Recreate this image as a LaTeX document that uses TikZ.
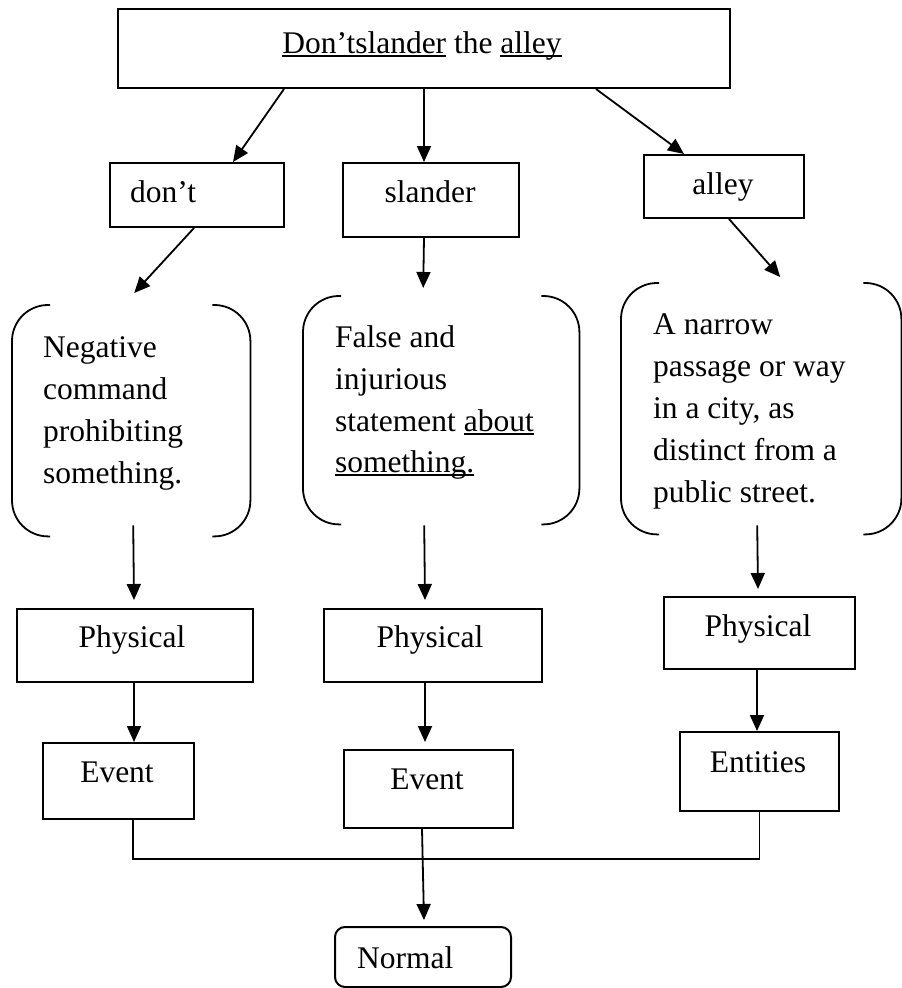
\documentclass[tikz,border=0pt]{standalone}
\usepackage{fontspec}
\setmainfont{Liberation Serif}
\usetikzlibrary{arrows.meta,calc}

% underline with a thin rule just below the baseline
\newsavebox{\undlbox}
\newcommand{\undl}[1]{\sbox{\undlbox}{#1}\rlap{\rule[-3.5pt]{\wd\undlbox}{1.5pt}}\usebox{\undlbox}}

\tikzset{
  box/.style={draw, line width=2pt, inner sep=0pt, anchor=north west},
  rbox/.style={box, rounded corners=10pt},
  brk/.style={draw=none, inner sep=0pt, anchor=north west},
  corner/.style={line width=1.8pt, rounded corners=36pt},
  txt/.style={inner sep=0pt, anchor=base},
  ltxt/.style={inner sep=0pt, anchor=base west},
  arr/.style={line width=1.8pt, -{Triangle[length=16pt,width=14pt]}},
  link/.style={line width=1.8pt}
}

% open bracket frame: four rounded corners, gaps at top and bottom
\newcommand{\bracketframe}[1]{%
  \draw[corner] ($(#1.north west)+(38,0)$) -- (#1.north west) -- (#1.south west) -- ($(#1.south west)+(38,0)$);
  \draw[corner] ($(#1.north east)+(-38,0)$) -- (#1.north east) -- (#1.south east) -- ($(#1.south east)+(-38,0)$);
}

\begin{document}
\begin{tikzpicture}[x=1pt,y=-1pt,font=\fontsize{31.5pt}{42pt}\selectfont]
\useasboundingbox (0,0) rectangle (902,988);

% boxes
\node[box, minimum width=612pt, minimum height=79pt] (top) at (117,8) {};
\node[box, minimum width=174pt, minimum height=64pt] (dont) at (109,162) {};
\node[box, minimum width=176pt, minimum height=74pt] (sla) at (342,162) {};
\node[box, minimum width=160pt, minimum height=63pt] (aly) at (643,154) {};
\node[brk, minimum width=238pt, minimum height=231pt] (b1) at (12,305) {};
\node[brk, minimum width=276pt, minimum height=228pt] (b2) at (303,296) {};
\node[brk, minimum width=280pt, minimum height=251pt] (b3) at (621,283) {};
\node[box, minimum width=236pt, minimum height=73pt] (p1) at (16,608) {};
\node[box, minimum width=218pt, minimum height=73pt] (p2) at (323,608) {};
\node[box, minimum width=191pt, minimum height=72pt] (p3) at (663,596) {};
\node[box, minimum width=151pt, minimum height=76pt] (e1) at (42,742) {};
\node[box, minimum width=169pt, minimum height=78pt] (e2) at (343,749) {};
\node[box, minimum width=159pt, minimum height=79pt] (ent) at (679,731) {};
\node[rbox, minimum width=176pt, minimum height=60pt] (nor) at (334,926) {};

\bracketframe{b1}
\bracketframe{b2}
\bracketframe{b3}

% texts
\node[txt] (topT) at (422,53) {\undl{Don’tslander} the \undl{alley}};
\node[ltxt] (dontT) at (130,202) {don’t};
\node[txt] (slaT) at (430,202) {slander};
\node[txt] (alyT) at (723,194) {alley};

\node[ltxt] (b1a) at (43,357) {Negative};
\node[ltxt] (b1b) at (43,399) {command};
\node[ltxt] (b1c) at (43,441) {prohibiting};
\node[ltxt] (b1d) at (43,483) {something.};

\node[ltxt] (b2a) at (335,347) {False and};
\node[ltxt] (b2b) at (335,389) {injurious};
\node[ltxt] (b2c) at (335,431) {statement \undl{about}};
\node[ltxt] (b2d) at (335,472) {\undl{something.}};

\node[ltxt] (b3a) at (653,334) {A narrow};
\node[ltxt] (b3b) at (653,376) {passage or way};
\node[ltxt] (b3c) at (653,418) {in a city, as};
\node[ltxt] (b3d) at (653,460) {distinct from a};
\node[ltxt] (b3e) at (653,502) {public street.};

\node[txt] (p1T) at (132,647) {Physical};
\node[txt] (p2T) at (430,647) {Physical};
\node[txt] (p3T) at (758,636) {Physical};
\node[txt] (e1T) at (117,782) {Event};
\node[txt] (e2T) at (427,789) {Event};
\node[txt] (entT) at (758,772) {Entities};
\node[ltxt] (norT) at (357,968) {Normal};

% connectors
\draw[arr] ($(top.south)+(-140,0)$) -- ($(dont.north)+(36,0)$);
\draw[arr] (top.south) -- ($(sla.north)+(-7,0)$);
\draw[arr] ($(top.south)+(172,0)$) -- ($(aly.north)+(-40,0)$);

\draw[arr] ($(dont.south)+(-3,0)$) -- ($(b1.north)+(3,-12)$);
\draw[arr] ($(sla.south)+(-7,0)$) -- ($(b2.north)+(-18,-8)$);
\draw[arr] ($(aly.south)+(5,0)$) -- ($(b3.north)+(19,-6)$);

\draw[arr] ($(b1.south)+(2,-11)$) -- ($(p1.north)+(-1,-8)$);
\draw[arr] ($(b2.south)+(-17,1)$) -- ($(p2.north)+(-8,-8)$);
\draw[arr] ($(b3.south)+(-4,-9)$) -- ($(p3.north)+(-1.5,-7)$);

\draw[arr] ($(p1.south)+(-1,0)$) -- ($(e1.north)+(15.5,0)$);
\draw[arr] ($(p2.south)+(-8,0)$) -- ($(e2.north)+(-3.5,-7)$);
\draw[arr] ($(p3.south)+(-2.5,0)$) -- ($(ent.north)+(-2.5,0)$);

\draw[link] ($(e1.south)+(14.5,0)$) -- ++(0,39) -| (ent.south);
\draw[arr] ($(e2.south)+(-6.5,0)$) -- ($(nor.north)+(1,-6)$);
\end{tikzpicture}
\end{document}
